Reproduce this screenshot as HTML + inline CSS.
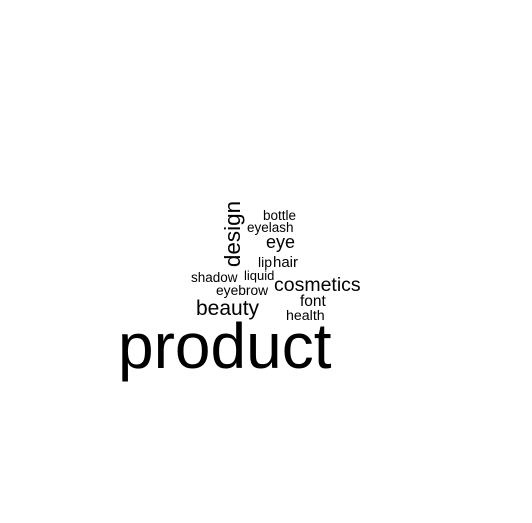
<!DOCTYPE html>
<html><head><meta charset="utf-8"><style>html,body{margin:0;padding:0;background:#fff}svg{display:block}</style></head>
<body>
<svg width="532" height="523" viewBox="0 0 532 523" font-family="'Liberation Sans', Arial, sans-serif" fill="#000">
<text x="118" y="368" font-size="64">product</text>
<text transform="translate(240,234) rotate(-90)" text-anchor="middle" font-size="22.5">design</text>
<text x="263" y="220" font-size="13.5">bottle</text>
<text x="247" y="232" font-size="13.5">eyelash</text>
<text x="266" y="248" font-size="18">eye</text>
<text x="258" y="267" font-size="14">lip</text>
<text x="273" y="267" font-size="15">hair</text>
<text x="191" y="282" font-size="13.5">shadow</text>
<text x="244" y="280" font-size="13">liquid</text>
<text x="216" y="295" font-size="13.8">eyebrow</text>
<text x="274" y="291" font-size="19.5">cosmetics</text>
<text x="300" y="306" font-size="15.5">font</text>
<text x="286" y="320" font-size="14.2">health</text>
<text x="196" y="315" font-size="21">beauty</text>
</svg>
</body></html>
